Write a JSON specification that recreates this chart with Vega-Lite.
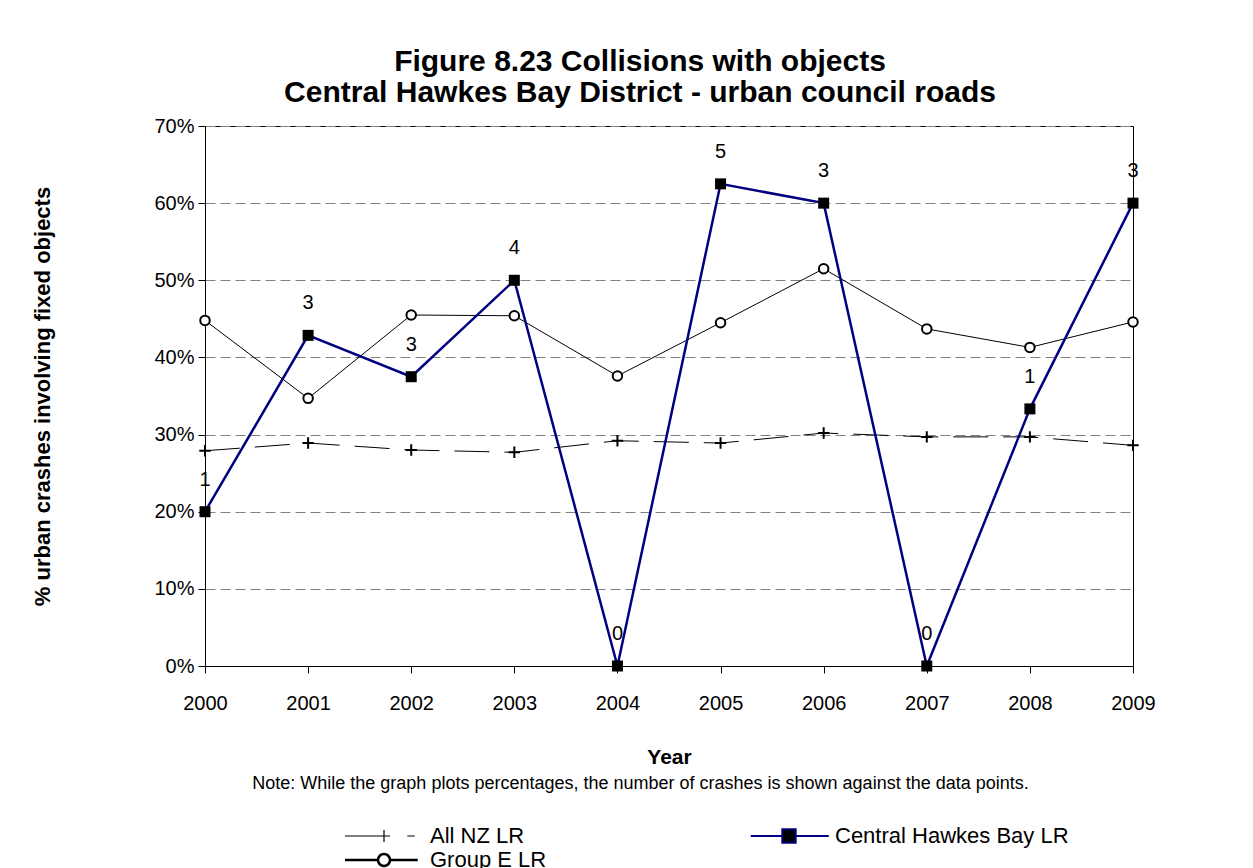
{
  "$schema": "https://vega.github.io/schema/vega-lite/v6.json",
  "width": 928,
  "height": 540,
  "autosize": {"type": "none"},
  "padding": {"left": 205, "top": 126, "right": 120, "bottom": 202},
  "background": "white",
  "config": {
    "font": "Liberation Sans",
    "view": {"stroke": "black", "strokeWidth": 1}
  },
  "title": {
    "text": ["Figure 8.23 Collisions with objects", "Central Hawkes Bay District - urban council roads"],
    "fontSize": 30,
    "fontWeight": "bold",
    "color": "black",
    "lineHeight": 31,
    "anchor": "middle",
    "frame": "group",
    "dx": -29,
    "offset": 8
  },
  "data": {
    "values": [
      {"year": "2000", "series": "All NZ LR", "value": 0.279},
      {"year": "2001", "series": "All NZ LR", "value": 0.289},
      {"year": "2002", "series": "All NZ LR", "value": 0.280},
      {"year": "2003", "series": "All NZ LR", "value": 0.277},
      {"year": "2004", "series": "All NZ LR", "value": 0.292},
      {"year": "2005", "series": "All NZ LR", "value": 0.289},
      {"year": "2006", "series": "All NZ LR", "value": 0.302},
      {"year": "2007", "series": "All NZ LR", "value": 0.297},
      {"year": "2008", "series": "All NZ LR", "value": 0.297},
      {"year": "2009", "series": "All NZ LR", "value": 0.286},
      {"year": "2000", "series": "Group E LR", "value": 0.448},
      {"year": "2001", "series": "Group E LR", "value": 0.347},
      {"year": "2002", "series": "Group E LR", "value": 0.455},
      {"year": "2003", "series": "Group E LR", "value": 0.454},
      {"year": "2004", "series": "Group E LR", "value": 0.376},
      {"year": "2005", "series": "Group E LR", "value": 0.445},
      {"year": "2006", "series": "Group E LR", "value": 0.515},
      {"year": "2007", "series": "Group E LR", "value": 0.437},
      {"year": "2008", "series": "Group E LR", "value": 0.413},
      {"year": "2009", "series": "Group E LR", "value": 0.446},
      {"year": "2000", "series": "Central Hawkes Bay  LR", "value": 0.2, "count": 1},
      {"year": "2001", "series": "Central Hawkes Bay  LR", "value": 0.4286, "count": 3},
      {"year": "2002", "series": "Central Hawkes Bay  LR", "value": 0.375, "count": 3},
      {"year": "2003", "series": "Central Hawkes Bay  LR", "value": 0.5, "count": 4},
      {"year": "2004", "series": "Central Hawkes Bay  LR", "value": 0, "count": 0},
      {"year": "2005", "series": "Central Hawkes Bay  LR", "value": 0.625, "count": 5},
      {"year": "2006", "series": "Central Hawkes Bay  LR", "value": 0.6, "count": 3},
      {"year": "2007", "series": "Central Hawkes Bay  LR", "value": 0, "count": 0},
      {"year": "2008", "series": "Central Hawkes Bay  LR", "value": 0.3333, "count": 1},
      {"year": "2009", "series": "Central Hawkes Bay  LR", "value": 0.6, "count": 3}
    ]
  },
  "encoding": {
    "x": {"field": "year", "type": "ordinal", "scale": {"type": "point", "padding": 0}, "axis": null},
    "y": {
      "field": "value",
      "type": "quantitative",
      "scale": {"domain": [0, 0.7], "nice": false},
      "axis": {
        "values": [0, 0.1, 0.2, 0.3, 0.4, 0.5, 0.6, 0.7],
        "format": ".0%",
        "title": "% urban crashes involving fixed objects",
        "titleFontSize": 22,
        "titleFontWeight": "bold",
        "titleColor": "black",
        "titlePadding": 99,
        "labelFontSize": 20,
        "labelColor": "black",
        "labelPadding": 4,
        "tickColor": "black",
        "tickSize": 7,
        "domainColor": "black",
        "gridColor": "#808080",
        "gridDash": [10, 5],
        "gridWidth": 1
      }
    }
  },
  "layer": [
    {
      "transform": [{"filter": "datum.series === 'All NZ LR'"}],
      "mark": {"type": "line", "color": "black", "strokeWidth": 1, "strokeDash": [35, 15]},
      "encoding": {
        "x": {
          "field": "year", "type": "ordinal",
          "axis": {
            "title": "Year",
            "orient": "bottom",
            "labelAngle": 0,
            "grid": false,
            "titleFontSize": 21,
            "titleFontWeight": "bold",
            "titleColor": "black",
            "titlePadding": 33,
            "labelFontSize": 20,
            "labelColor": "black",
            "labelPadding": 20,
            "tickColor": "black",
            "tickSize": 7,
            "domainColor": "black"
          }
        }
      }
    },
    {
      "transform": [{"filter": "datum.series === 'All NZ LR'"}],
      "mark": {"type": "point", "shape": "M-1,0H1M0,-1V1", "size": 130, "filled": false, "stroke": "black", "strokeWidth": 2, "opacity": 1}
    },
    {
      "transform": [{"filter": "datum.series === 'Group E LR'"}],
      "mark": {"type": "line", "color": "black", "strokeWidth": 1}
    },
    {
      "transform": [{"filter": "datum.series === 'Group E LR'"}],
      "mark": {"type": "point", "shape": "circle", "size": 90, "filled": false, "fill": "white", "stroke": "black", "strokeWidth": 2, "opacity": 1}
    },
    {
      "transform": [{"filter": "datum.series === 'Central Hawkes Bay  LR'"}],
      "mark": {"type": "line", "color": "#000080", "strokeWidth": 2.5}
    },
    {
      "transform": [{"filter": "datum.series === 'Central Hawkes Bay  LR'"}],
      "mark": {"type": "point", "shape": "square", "size": 121, "filled": true, "color": "black", "opacity": 1}
    },
    {
      "transform": [{"filter": "datum.series === 'Central Hawkes Bay  LR'"}],
      "mark": {"type": "text", "dy": -32, "fontSize": 20, "fill": "black"},
      "encoding": {"text": {"field": "count", "type": "quantitative"}}
    },
    {
      "mark": {"type": "point", "opacity": 0, "filled": true},
      "encoding": {
        "x": {
          "field": "year", "type": "ordinal",
          "axis": {
            "title": "Note: While the graph plots percentages, the number of crashes is shown against the  data points.",
            "orient": "bottom",
            "labels": false,
            "ticks": false,
            "domain": false,
            "grid": false,
            "titleFontSize": 18,
            "titleFontWeight": "normal",
            "titleColor": "black",
            "titlePadding": 108,
            "titleX": 435,
            "titleAlign": "center"
          }
        },
        "shape": {
          "field": "series", "type": "nominal",
          "scale": {
            "domain": ["All NZ LR", "Central Hawkes Bay  LR", "Group E LR"],
            "range": [
              "M-5.2,0H0.8M0,-0.8V0.8M3.1,0H4.1",
              "M-5.1,0H-0.9M0.9,0H5.3M-0.9,-0.9H0.9V0.9H-0.9Z",
              "M-5.2,0H-0.8M0.8,0H4.5M-0.8,0A0.8,0.8,0,1,1,0.8,0A0.8,0.8,0,1,1,-0.8,0"
            ]
          },
          "legend": {"title": null, "orient": "none", "direction": "horizontal", "legendX": 168, "legendY": 699, "columns": 2, "columnPadding": 200, "rowPadding": 2, "symbolSize": 225, "labelFontSize": 22, "labelColor": "black", "labelOffset": 35, "labelLimit": 400, "symbolOpacity": 1, "padding": 0}
        },
        "stroke": {
          "field": "series", "type": "nominal",
          "scale": {"domain": ["All NZ LR", "Central Hawkes Bay  LR", "Group E LR"], "range": ["black", "#000080", "black"]},
          "legend": {"title": null, "orient": "none", "direction": "horizontal", "legendX": 168, "legendY": 699, "columns": 2, "columnPadding": 200, "rowPadding": 2, "symbolSize": 225, "labelFontSize": 22, "labelColor": "black", "labelOffset": 35, "labelLimit": 400, "symbolOpacity": 1, "padding": 0}
        },
        "fill": {
          "field": "series", "type": "nominal",
          "scale": {"domain": ["All NZ LR", "Central Hawkes Bay  LR", "Group E LR"], "range": ["transparent", "black", "transparent"]},
          "legend": {"title": null, "orient": "none", "direction": "horizontal", "legendX": 168, "legendY": 699, "columns": 2, "columnPadding": 200, "rowPadding": 2, "symbolSize": 225, "labelFontSize": 22, "labelColor": "black", "labelOffset": 35, "labelLimit": 400, "symbolOpacity": 1, "padding": 0}
        },
        "strokeWidth": {
          "field": "series", "type": "nominal",
          "scale": {"domain": ["All NZ LR", "Central Hawkes Bay  LR", "Group E LR"], "range": [1.2, 2.5, 1.2]},
          "legend": {"title": null, "orient": "none", "direction": "horizontal", "legendX": 168, "legendY": 699, "columns": 2, "columnPadding": 200, "rowPadding": 2, "symbolSize": 225, "labelFontSize": 22, "labelColor": "black", "labelOffset": 35, "labelLimit": 400, "symbolOpacity": 1, "padding": 0}
        }
      }
    }
  ],
  "resolve": {"axis": {"x": "independent"}}
}
